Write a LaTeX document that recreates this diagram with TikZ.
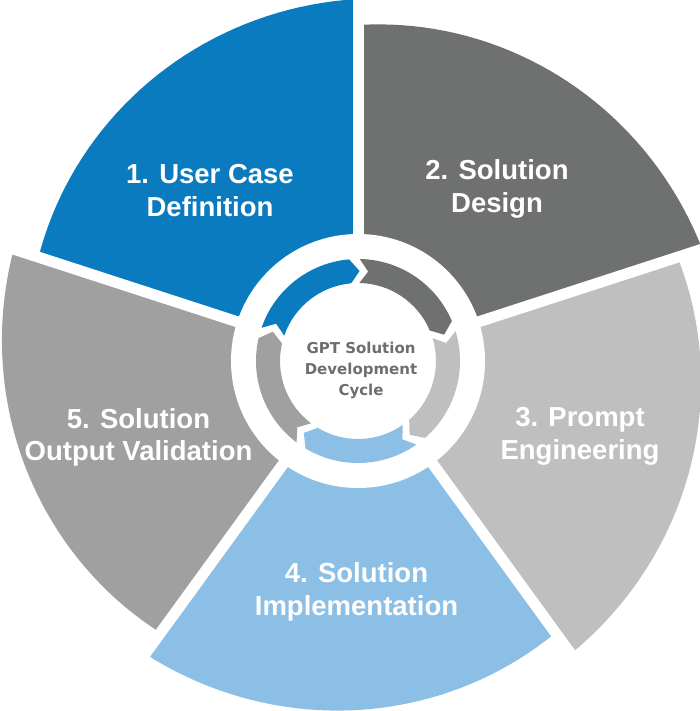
\documentclass[tikz,border=0pt]{standalone}
\usepackage{fontspec}
\setmainfont{Liberation Sans}
\newfontfamily\hubfont{DejaVu Sans}
\definecolor{caseblue}{HTML}{0B7BC0}
\definecolor{designgrey}{HTML}{6F7070}
\definecolor{promptgrey}{HTML}{BFBFBF}
\definecolor{implblue}{HTML}{8BBFE6}
\definecolor{validgrey}{HTML}{A0A0A0}
\definecolor{hubtext}{HTML}{6E6E6E}
\begin{document}
\begin{tikzpicture}[x=1pt, y=1pt,
        seglabel/.style={white, font=\bfseries\fontsize{27.5}{33}\selectfont, align=center, anchor=base, inner sep=0pt},
        hub/.style={hubtext, font=\hubfont\bfseries\fontsize{15}{21}\selectfont, align=center, anchor=base, inner sep=0pt},
        gapline/.style={white, line width=11pt}]
    \useasboundingbox (-358, -350) rectangle (342, 361);
    % the five slices, each one a little larger at its clockwise end
    \foreach \b/\col [evaluate=\b as \a using \b+72] in {90/caseblue, 18/designgrey, -54/promptgrey, -126/implblue, 162/validgrey}
        \fill[\col] (0, 0) -- plot[domain=\b:\a, samples=40] (\x:{362 - 26*(\x-\b)/72}) -- cycle;
    \foreach \r in {90, 18, -54, -126, 162}
        \draw[gapline] (0, 0) -- (\r:390);
    \fill[white] (0, 0) circle[radius=127];
    % inner ring of arrows
    \foreach \b/\col [evaluate=\b as \a using \b+72] in {90/caseblue, 18/designgrey, -54/promptgrey, -126/implblue, 162/validgrey}
        \fill[\col] (\a-1:102) arc[start angle=\a-1, end angle=\b+5, radius=102] -- (\b-1:90)
            -- (\b+5:78) arc[start angle=\b+5, end angle=\a-1, radius=78] -- (\a-6.5:90) -- cycle;
    \node[seglabel] (case) at (-148, 144.5) {1. User Case\\Definition};
    \node[seglabel] (design) at (139, 148) {2. Solution\\Design};
    \node[seglabel] (prompt) at (222, -99) {3. Prompt\\Engineering};
    \node[seglabel] (impl) at (-1.5, -254) {4. Solution\\Implementation};
    \node[seglabel] (valid) at (-219.5, -100) {5. Solution\\Output Validation};
    \node[hub] (hub) at (3, -35) {GPT Solution\\Development\\Cycle};
\end{tikzpicture}
\end{document}
